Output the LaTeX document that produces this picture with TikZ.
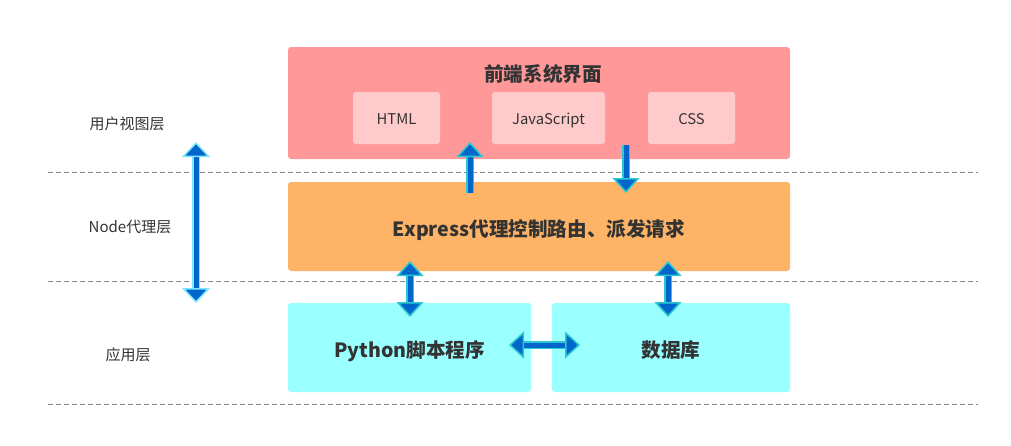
\documentclass[tikz,border=0pt]{standalone}
\usepackage{fontspec}
\setmainfont{Noto Sans CJK SC}
\usetikzlibrary{arrows.meta}
\definecolor{fepink}{HTML}{FF9999}
\definecolor{innerpink}{HTML}{FFCACA}
\definecolor{exorange}{HTML}{FFB366}
\definecolor{appcyan}{HTML}{99FFFF}
\definecolor{arrblue}{HTML}{0066CC}
\definecolor{arrcyan}{HTML}{2CC8D0}
\definecolor{arrlight}{HTML}{80E6FF}
\definecolor{txt}{HTML}{333333}
\definecolor{dashgray}{HTML}{888888}
\tikzset{
  box/.style={rounded corners=3pt, draw=none, inner sep=0pt, text=txt},
  bigtitle/.style={text=txt, font=\fontsize{19.6}{22}\selectfont\bfseries, text height=22pt, text depth=2pt},
  smalltxt/.style={text=txt, font=\fontsize{14.8}{17}\selectfont, text height=13pt, text depth=1pt},
  sidelabel/.style={text=txt, font=\fontsize{15}{17}\selectfont},
  sep/.style={draw=dashgray, dashed, dash pattern=on 5pt off 3pt, line width=0.8pt},
  bigarrow/.style={draw=#1, double=arrblue, line width=1.5pt, double distance=5pt},
  bigarrow/.default=arrcyan,
  tipc/.tip={Triangle[width=27pt,length=15pt,fill=arrblue,color=arrcyan,line width=1.5pt]},
  tipl/.tip={Triangle[width=28pt,length=15pt,fill=arrblue,color=arrlight,line width=1.5pt]},
}
\begin{document}
\begin{tikzpicture}[x=1pt,y=-1pt]
\useasboundingbox (0,0) rectangle (1011,445);
\fill[white] (0,0) rectangle (1011,445);
% separators
\coordinate (s1a) at (48,172); \coordinate (s1b) at (978,172);
\coordinate (s2a) at (48,281); \coordinate (s2b) at (978,281);
\coordinate (s3a) at (48,404); \coordinate (s3b) at (978,404);
\draw[sep] (s1a) -- (s1b);
\draw[sep] (s2a) -- (s2b);
\draw[sep] (s3a) -- (s3b);
% side labels
\node[sidelabel] (l1) at (127,124) {用户视图层};
\node[sidelabel] (l2) at (130,227) {Node代理层};
\node[sidelabel] (l3) at (128,355) {应用层};
% front end
\node[box, fill=fepink, minimum width=502pt, minimum height=112pt] (fe) at (539,103) {};
\node[bigtitle] (fet) at (543,71) {前端系统界面};
\node[box, fill=innerpink, minimum width=87pt, minimum height=52pt, smalltxt] (html) at (396.5,118) {HTML};
\node[box, fill=innerpink, minimum width=113pt, minimum height=52pt, smalltxt] (js) at (548.5,118) {JavaScript};
\node[box, fill=innerpink, minimum width=87pt, minimum height=52pt, smalltxt] (css) at (691.5,118) {CSS};
% express
\node[box, fill=exorange, minimum width=502pt, minimum height=89pt, bigtitle] (ex) at (539,226.5) {Express代理控制路由、派发请求};
% app layer
\node[box, fill=appcyan, minimum width=243pt, minimum height=89pt, bigtitle] (py) at (409.5,347.5) {Python脚本程序};
\node[box, fill=appcyan, minimum width=238pt, minimum height=89pt, bigtitle] (db) at (671,347.5) {数据库};
% arrow endpoints
\coordinate (a1s) at (470,193); \coordinate (a1e) at (470,142);
\coordinate (a2s) at (626,145); \coordinate (a2e) at (626,193);
\coordinate (a3s) at (196,142); \coordinate (a3e) at (196,303);
\coordinate (a4s) at (410,261); \coordinate (a4e) at (410,317);
\coordinate (a5s) at (668,261); \coordinate (a5e) at (668,317);
\coordinate (a6s) at (509,345); \coordinate (a6e) at (580,345);
\draw[bigarrow, -{tipc}] (a1s) -- (a1e);
\draw[bigarrow, -{tipc}] (a2s) -- (a2e);
\draw[bigarrow=arrlight, {tipl}-{tipl}] (a3s) -- (a3e);
\draw[bigarrow, {tipc}-{tipc}] (a4s) -- (a4e);
\draw[bigarrow, {tipc}-{tipc}] (a5s) -- (a5e);
\draw[bigarrow, {tipc}-{tipc}] (a6s) -- (a6e);
\end{tikzpicture}
\end{document}
